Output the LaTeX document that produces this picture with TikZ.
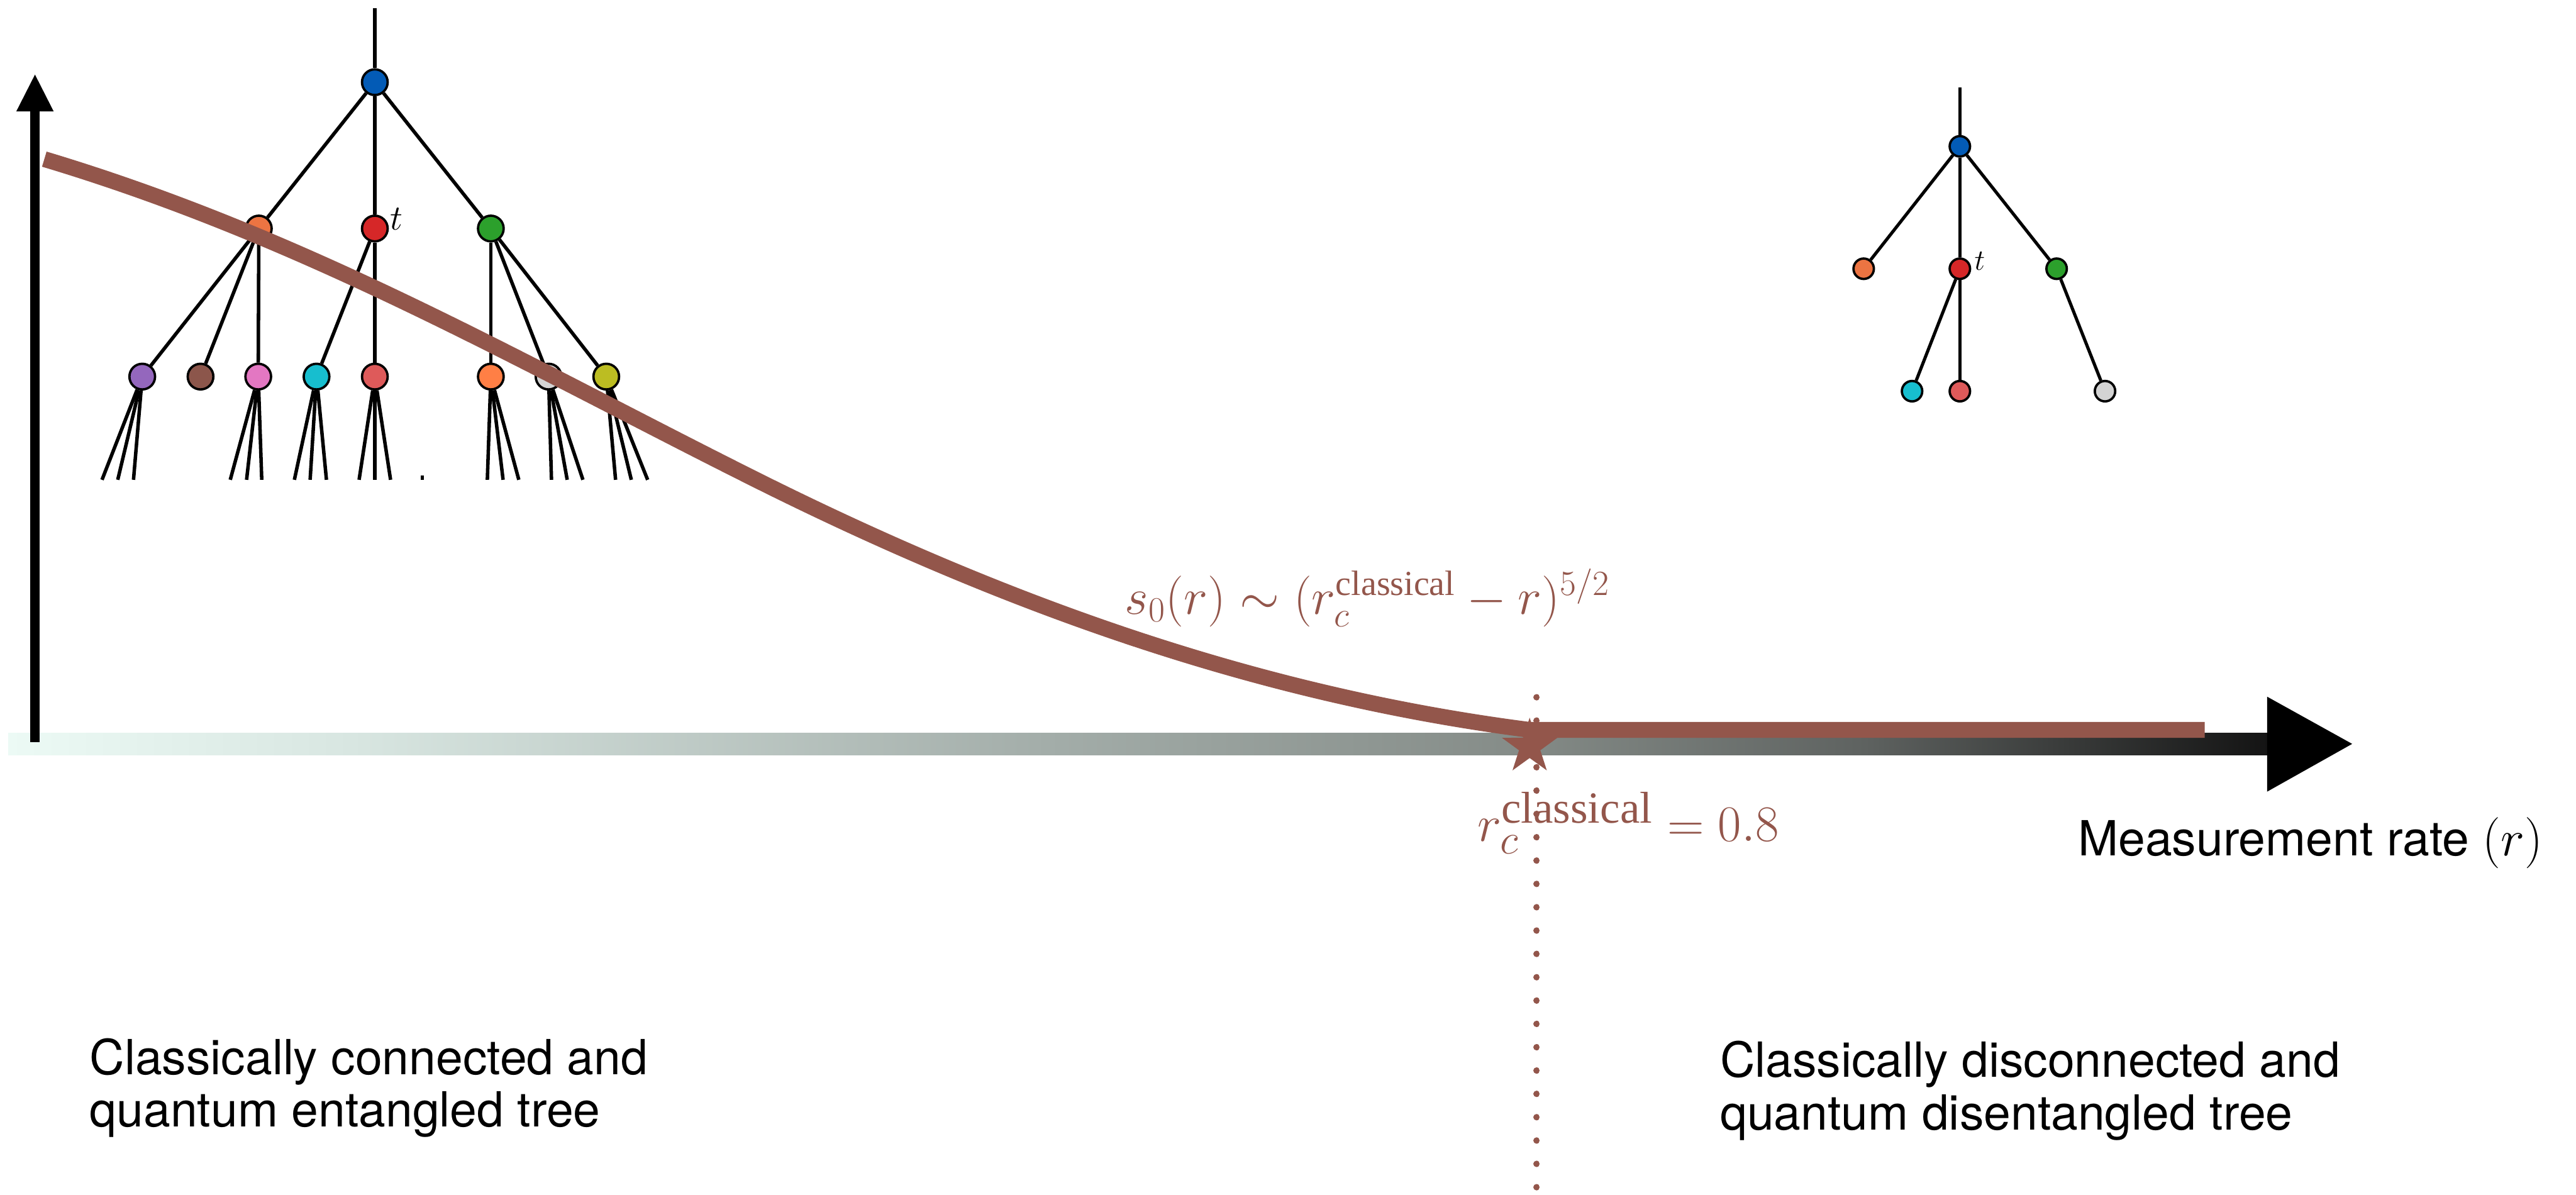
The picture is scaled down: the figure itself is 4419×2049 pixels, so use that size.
\documentclass[tikz,border=0pt]{standalone}
\usepackage{amsmath}
\usepackage{fontspec}
\setmainfont{Liberation Serif}
\setsansfont{TeX Gyre Heros}
\usetikzlibrary{shapes.geometric,calc}
\definecolor{curvebrown}{HTML}{93564B}
\definecolor{cblue}{HTML}{035BB6}
\definecolor{corange}{HTML}{EC7442}
\definecolor{cred}{HTML}{D62728}
\definecolor{cgreen}{HTML}{2CA02C}
\definecolor{cpurple}{HTML}{9467BD}
\definecolor{cbrown}{HTML}{8C564B}
\definecolor{cpink}{HTML}{E377C2}
\definecolor{ccyan}{HTML}{17BECF}
\definecolor{clred}{HTML}{DE5A5A}
\definecolor{corangeb}{HTML}{FF7F45}
\definecolor{cgray}{HTML}{D3D3D3}
\definecolor{colive}{HTML}{BCBD22}
\definecolor{gza}{HTML}{ECFAF5}
\definecolor{gzb}{HTML}{D8E6E1}
\definecolor{gzc}{HTML}{A3ADA9}
\definecolor{gzd}{HTML}{858C88}
\definecolor{gze}{HTML}{5E6260}
\definecolor{gzf}{HTML}{141414}
\pgfdeclarehorizontalshading{axisgrad}{100bp}{color(0bp)=(gza); color(25bp)=(gza); color(32.6bp)=(gzb); color(48bp)=(gzc); color(58.4bp)=(gzd); color(66.1bp)=(gze); color(75bp)=(gzf); color(100bp)=(gzf)}
\newcommand{\cmt}{{\usefont{OML}{cmm}{m}{it}t}}
\begin{document}
\begin{tikzpicture}[x=0.01cm,y=-0.01cm,
  edge/.style={line width=1.7pt, black},
  redge/.style={line width=1.55pt, black},
  lnode/.style={circle, draw=black, line width=1.14pt, minimum size=0.44cm, inner sep=0pt},
  rnode/.style={circle, draw=black, line width=1.14pt, minimum size=0.35cm, inner sep=0pt},
  lbl/.style={font=\sffamily\fontsize{23.6pt}{25.6pt}\selectfont, inner sep=0pt, align=left, text=black},
  brn/.style={text=curvebrown, inner sep=0pt},
]
\useasboundingbox (0,0) rectangle (4419,2049);

% horizontal axis
\shade[shading=axisgrad] (14,1257) rectangle (3889,1295);
\fill[black] (3889,1195) -- (4035,1276) -- (3889,1358) -- cycle;
% vertical axis
\fill[black] (52,1273) rectangle (68,190);
\fill[black] (28,191) -- (60,128) -- (92,191) -- cycle;

% left tree
\node[lnode, fill=cblue] (r) at (643,141) {};
\node[lnode, fill=corange] (a) at (444,392) {};
\node[lnode, fill=cred] (b) at (643,392) {};
\node[lnode, fill=cgreen] (c) at (842,392) {};
\node[lnode, fill=cpurple] (pu) at (244,646) {};
\node[lnode, fill=cbrown] (br) at (344,646) {};
\node[lnode, fill=cpink] (pk) at (443,646) {};
\node[lnode, fill=ccyan] (cy) at (543,646) {};
\node[lnode, fill=clred] (lr) at (643,646) {};
\node[lnode, fill=corangeb] (ob) at (842,646) {};
\node[lnode, fill=cgray] (gy) at (941,646) {};
\node[lnode, fill=colive] (ol) at (1040,646) {};
\coordinate (rtop) at (643,14);
\draw[edge] (r) -- (rtop);
\foreach \u/\v in {r/a, r/b, r/c, a/pu, a/br, a/pk, b/cy, b/lr, c/ob, c/gy, c/ol} \draw[edge] (\u) -- (\v);
\foreach \n/\p/\q/\s in {pu/-69/-42/-15, pk/-48/-20/6, cy/-38/-11/17, lr/-27/0/27, ob/-6/21/48, gy/5/32/59, ol/16/43/71} {
  \foreach \d [count=\k] in {\p,\q,\s} {
    \path (\n) ++(\d,177) coordinate (\n-\k);
    \draw[edge] (\n) -- (\n-\k);
  }
}
\node[inner sep=0pt, font=\fontsize{17.6pt}{18pt}\selectfont] (tl) at (680,376) {\cmt};
\fill[black] (722,816) rectangle (727,823);

% right tree
\node[rnode, fill=cblue] (R) at (3362,251) {};
\node[rnode, fill=corange] (RA) at (3197,461) {};
\node[rnode, fill=cred] (RB) at (3362,461) {};
\node[rnode, fill=cgreen] (RC) at (3528,461) {};
\node[rnode, fill=ccyan] (RD) at (3280,671) {};
\node[rnode, fill=clred] (RE) at (3362,671) {};
\node[rnode, fill=cgray] (RF) at (3611,671) {};
\coordinate (Rtop) at (3362,150);
\draw[redge] (R) -- (Rtop);
\foreach \u/\v in {R/RA, R/RB, R/RC, RB/RD, RB/RE, RC/RF} \draw[redge] (\u) -- (\v);
\node[inner sep=0pt, font=\fontsize{13.4pt}{14pt}\selectfont] (tr) at (3396,448) {\cmt};

% curve
\draw[line width=7.7pt, curvebrown] (76,273) .. controls (526,408) and (895,622) .. (1295,822) .. controls (1745,1047) and (2174,1194) .. (2624,1252) -- (3782,1252);

% critical point
\coordinate (dtop) at (2636,1196);
\coordinate (dbot) at (2636,2045);
\draw[curvebrown, line width=3.1pt, line cap=round, dash pattern=on 0.01pt off 11.37pt] (dtop) -- (dbot);
\node[star, star points=5, star point ratio=2.6, fill=curvebrown, minimum size=1.0cm, inner sep=0pt] (st) at (2624,1281) {};

% labels
\node[brn, anchor=base west, font=\fontsize{24.5pt}{27pt}\selectfont] (f1) at (1929,1053) {$s_0(r)\sim(r_c^{\text{classical}}-r)^{5/2}$};
\node[brn, anchor=base west, font=\fontsize{31pt}{33pt}\selectfont] (f2) at (2534,1443) {$r_c^{\text{classical}}=0.8$};
\node[lbl, anchor=base west] (mr) at (3564,1468) {Measurement rate $(r)$};
\node[lbl, anchor=north west] (tla) at (153,1780) {Classically connected and\\quantum entangled tree};
\node[lbl, anchor=north west] (tra) at (2950,1785) {Classically disconnected and\\quantum disentangled tree};
\end{tikzpicture}
\end{document}
